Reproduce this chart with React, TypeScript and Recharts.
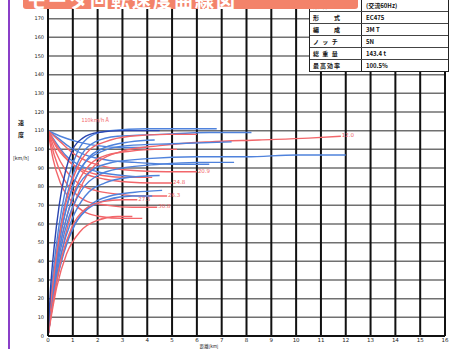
import React from "react";
import { LineChart, Line, XAxis, YAxis, CartesianGrid, ReferenceDot } from "recharts";

const xTicks = [0, 1, 2, 3, 4, 5, 6, 7, 8, 9, 10, 11, 12, 13, 14, 15, 16];
const yTicks = [0, 10, 20, 30, 40, 50, 60, 70, 80, 90, 100, 110, 120, 130, 140, 150, 160, 170];

type P = [number, number];

const blue1: P[] = [[0, 0], [0.12, 22], [0.3, 45], [0.55, 68], [0.85, 86], [1.2, 99], [1.7, 107], [2.5, 110], [4, 111], [5.5, 111], [6.8, 111]];
const blue2: P[] = [[0, 0], [0.15, 22], [0.35, 45], [0.6, 66], [0.95, 84], [1.35, 97], [1.9, 104], [2.8, 107], [4.5, 108], [6.5, 109], [8.2, 109]];
const blue3: P[] = [[0, 0], [0.17, 22], [0.4, 46], [0.7, 66], [1.05, 82], [1.5, 93], [2.2, 99], [3.2, 102], [5, 103], [7.4, 104]];
const blue4: P[] = [[0, 0], [0.2, 24], [0.45, 46], [0.78, 65], [1.2, 80], [1.8, 89], [2.6, 93], [4, 95], [6, 96], [8, 96], [10, 97], [12, 97]];
const blue5: P[] = [[0, 0], [0.22, 24], [0.5, 46], [0.85, 64], [1.3, 77], [2, 86], [3, 90], [4.5, 92], [6, 93], [7.5, 93]];
const blue6: P[] = [[0, 0], [0.25, 25], [0.55, 45], [0.95, 62], [1.5, 75], [2.3, 82], [3.3, 85], [4.5, 86]];
const blue7: P[] = [[0, 0], [0.1, 25], [0.25, 48], [0.45, 70], [0.7, 88], [1.0, 100], [1.4, 106], [2, 109], [3, 110], [4.5, 110]];
const blue8: P[] = [[0, 0], [0.3, 26], [0.65, 45], [1.1, 60], [1.7, 70], [2.5, 75], [3.5, 77], [4.6, 78]];
const blue9: P[] = [[0, 110], [0.4, 106], [0.9, 101], [1.5, 97], [2.5, 94], [3.5, 93], [5, 92], [6.5, 92]];
const blue10: P[] = [[0, 110], [0.3, 104], [0.7, 97], [1.2, 92], [2, 88], [3, 86], [4, 85]];
const blue11: P[] = [[0, 0], [0.18, 24], [0.42, 48], [0.72, 68], [1.1, 84], [1.6, 95], [2.3, 101], [3.3, 104], [4.3, 105]];
const blue12: P[] = [[0, 110], [0.5, 107], [1.2, 104], [2, 102], [3, 101], [4, 101]];
const blue13: P[] = [[0, 0], [0.28, 25], [0.6, 44], [1.0, 58], [1.6, 68], [2.4, 73], [3.4, 75], [4.2, 75]];

const red1: P[] = [[0, 0], [0.2, 20], [0.5, 42], [0.9, 64], [1.4, 82], [2, 93], [3, 99], [4.5, 102], [6.5, 104], [8.5, 105], [10.5, 106], [11.8, 107]];
const red2: P[] = [[0, 110], [0.5, 104], [1, 98], [1.7, 93], [2.6, 90], [3.6, 88.5], [4.8, 88], [6, 88]];
const red3: P[] = [[0, 110], [0.4, 101], [0.9, 93], [1.5, 87], [2.3, 84], [3.2, 82.5], [4.2, 82], [5, 82]];
const red4: P[] = [[0, 110], [0.3, 99], [0.7, 89], [1.2, 82], [1.9, 78], [2.8, 76], [3.8, 75], [4.8, 75]];
const red5: P[] = [[0, 110], [0.25, 97], [0.6, 85], [1.05, 77], [1.6, 72], [2.4, 70], [3.4, 69], [4.4, 69]];
const red6: P[] = [[0, 110], [0.2, 95], [0.5, 82], [0.9, 73], [1.4, 67], [2.1, 64], [3, 63], [3.8, 63]];
const red7: P[] = [[0, 0], [0.15, 22], [0.35, 44], [0.6, 64], [0.9, 80], [1.25, 92], [1.7, 100], [2.3, 104], [3.3, 107], [4.8, 108], [6, 108]];
const red8: P[] = [[0, 0], [0.25, 22], [0.55, 42], [0.95, 58], [1.5, 68], [2.2, 72], [3, 73], [3.6, 73]];
const red9: P[] = [[0, 0], [0.35, 26], [0.75, 44], [1.3, 56], [2, 62], [2.8, 64], [3.4, 64]];
const red10: P[] = [[0, 0], [0.2, 24], [0.45, 46], [0.8, 66], [1.2, 82], [1.7, 92], [2.4, 97], [3.3, 99], [4.3, 100], [5.2, 100]];
const red11: P[] = [[0, 110], [0.3, 102], [0.8, 94], [1.4, 89], [2.2, 86], [3.2, 85], [4.2, 85]];

const BLUE = "#4f82dc";
const DBLUE = "#2a45b0";
const RED = "#f2666a";

const series: { pts: P[]; color: string; label: string }[] = [
  { pts: blue9, color: BLUE, label: "" },
  { pts: blue10, color: BLUE, label: "" },
  { pts: blue12, color: BLUE, label: "" },
  { pts: red2, color: RED, label: "20.9" },
  { pts: red3, color: RED, label: "24.8" },
  { pts: red4, color: RED, label: "26.3" },
  { pts: red5, color: RED, label: "30.8" },
  { pts: red6, color: RED, label: "" },
  { pts: red11, color: RED, label: "" },
  { pts: blue1, color: BLUE, label: "" },
  { pts: blue2, color: BLUE, label: "" },
  { pts: red1, color: RED, label: "12.0" },
  { pts: blue3, color: BLUE, label: "" },
  { pts: red10, color: RED, label: "" },
  { pts: blue4, color: BLUE, label: "" },
  { pts: blue11, color: BLUE, label: "" },
  { pts: blue5, color: BLUE, label: "" },
  { pts: blue6, color: BLUE, label: "" },
  { pts: red7, color: RED, label: "" },
  { pts: blue8, color: BLUE, label: "" },
  { pts: blue13, color: BLUE, label: "" },
  { pts: red8, color: RED, label: "27.5" },
  { pts: red9, color: RED, label: "" },
  { pts: blue7, color: DBLUE, label: "" },
];

const notes = [{ x: 1.9, y: 112, text: "110km/h  A" }];

const tableRows: [string, string][] = [
  ["条 件", "(交流60Hz)"],
  ["形　　式", "EC475"],
  ["編　　成", "3M T"],
  ["ノ ッ チ", "5N"],
  ["総 重 量", "143.4 t"],
  ["最高効率", "100.5%"],
];

const endLabel = (txt: string, n: number) => (p: any) => {
  if (!txt || p.index !== n - 1) return <g key={`l${p.index}`} />;
  return (
    <text key={`l${p.index}`} x={p.x + 1} y={p.y + 1} fontSize={5.5} fill={RED} fontFamily="DejaVu Sans">
      {txt}
    </text>
  );
};

export default function App() {
  return (
    <div style={{ position: "absolute", left: 0, top: 0, width: 453, height: 349, background: "#fff", overflow: "hidden", fontFamily: "'Noto Sans CJK JP', sans-serif" }}>
      <div style={{ position: "absolute", left: 8, top: 0, width: 2, height: 349, background: "#8a3fc8" }} />
      <LineChart width={453} height={349} margin={{ top: 0, right: 8, bottom: 0, left: 8 }} style={{ position: "absolute", left: 0, top: 0 }}>
        <CartesianGrid vertical={false} stroke="#707070" strokeWidth={1.5} />
        <CartesianGrid horizontal={false} stroke="#111" strokeWidth={2} />
        <XAxis
          type="number"
          dataKey="x"
          domain={[0, 16]}
          ticks={xTicks}
          interval={0}
          height={13}
          tickLine={false}
          tickSize={1}
          tickMargin={1}
          axisLine={{ stroke: "#111", strokeWidth: 2 }}
          tick={{ fontSize: 5.5, fill: "#222", fontFamily: "DejaVu Sans" }}
          allowDataOverflow
        />
        <YAxis
          type="number"
          dataKey="y"
          domain={[0, 180]}
          ticks={yTicks}
          interval={0}
          width={40}
          tickLine={false}
          tickSize={2}
          tickMargin={2}
          axisLine={{ stroke: "#111", strokeWidth: 2 }}
          tick={{ fontSize: 5, fill: "#222", fontFamily: "DejaVu Sans" }}
          allowDataOverflow
        />
        {series.map((s, i) => (
          <Line
            key={i}
            data={s.pts.map(([x, y]) => ({ x, y }))}
            dataKey="y"
            type="monotone"
            stroke={s.color}
            strokeWidth={1.4}
            dot={false}
            isAnimationActive={false}
            label={endLabel(s.label, s.pts.length)}
          />
        ))}
        {notes.map((n, i) => (
          <ReferenceDot key={i} x={n.x} y={n.y} r={0} label={{ value: n.text, fontSize: 5.5, fill: RED, position: "top" }} />
        ))}
      </LineChart>
      <div style={{ position: "absolute", left: 14, top: 117, width: 14, fontSize: 6, fontWeight: 700, color: "#222", textAlign: "center", lineHeight: "12px" }}>
        速<br />度
      </div>
      <div style={{ position: "absolute", left: 8, top: 154, width: 26, fontSize: 5, color: "#222", textAlign: "center" }}>[km/h]</div>
      <div style={{ position: "absolute", left: 199, top: 343, width: 20, fontSize: 4.5, color: "#222", textAlign: "center", lineHeight: "6px", whiteSpace: "nowrap" }}>距離[km]</div>
      <div style={{ position: "absolute", left: 309, top: 0, width: 138, background: "#fff", border: "1.5px solid #222", borderTop: "none" }}>
        {tableRows.map((r, i) => (
          <div key={i} style={{ display: "flex", height: 11, borderTop: i ? "1px solid #444" : "none", fontSize: 6, lineHeight: "11px", fontWeight: 700, color: "#111" }}>
            <div style={{ width: 48, borderRight: "1.5px solid #222", paddingLeft: 3, letterSpacing: 1 }}>{r[0]}</div>
            <div style={{ paddingLeft: 4 }}>{r[1]}</div>
          </div>
        ))}
      </div>
      <div style={{ position: "absolute", left: 23, top: 0, width: 335, height: 9, background: "#f3836a", borderBottomLeftRadius: 3, borderBottomRightRadius: 3, overflow: "hidden" }}>
        <div style={{ position: "absolute", left: 4, top: -14, fontSize: 19, fontWeight: 700, color: "#fff", whiteSpace: "nowrap", letterSpacing: 2 }}>
          モータ回転速度曲線図
        </div>
      </div>
    </div>
  );
}
